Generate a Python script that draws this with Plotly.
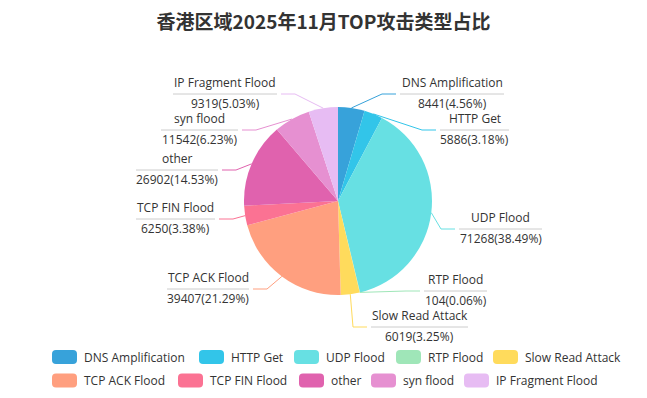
import math
import plotly.graph_objects as go

# ---------------- data ----------------
categories = ["DNS Amplification", "HTTP Get", "UDP Flood", "RTP Flood", "Slow Read Attack",
              "TCP ACK Flood", "TCP FIN Flood", "other", "syn flood", "IP Fragment Flood"]
values = [8441, 5886, 71268, 104, 6019, 39407, 6250, 26902, 11542, 9319]
colors = ["#37a2da", "#32c5e9", "#67e0e3", "#9fe6b8", "#ffdb5c",
          "#ff9f7f", "#fb7293", "#e062ae", "#e690d1", "#e7bcf3"]
title_text = "香港区域2025年11月TOP攻击类型占比"

# ---------------- layout constants ----------------
W, H = 647, 398
OFF = 8  # page body margin compensation
CX, CY, R = 338, 201, 94
# label elbow points (pixels) and label box widths
label_elbows = [(382, 94), (422, 130), (441, 229), (406, 291), (353, 327),
                (267, 289), (233, 219), (236, 170), (256, 130), (295, 94)]
label_widths = [104, 69, 83, 63, 97, 82, 79, 82, 77, 104]
legend_rows = [
    (357, [52, 199, 294, 396, 493]),
    (380.5, [52, 178, 299, 371, 464]),
]
FONT = "Open Sans, Noto Sans CJK SC, sans-serif"
TEXT_COLOR = "#333333"


def px(x):
    return (x - OFF) / W


def py(y):
    return 1 - (y - OFF) / H


fig = go.Figure()
fig.add_trace(go.Pie(
    labels=categories, values=values, sort=False, direction="clockwise", rotation=0,
    marker=dict(colors=colors, line=dict(width=0)),
    textinfo="none", showlegend=False,
    domain=dict(x=[px(CX - R), px(CX + R)], y=[py(CY + R), py(CY - R)]),
    hovertemplate="%{label}<br>%{value} (%{percent})<extra></extra>",
))

shapes = []
annotations = []
total = sum(values)
cum = 0
for i, (name, v, col) in enumerate(zip(categories, values, colors)):
    mid = 2 * math.pi * (cum + v / 2) / total
    cum += v
    sx = CX + R * math.sin(mid)
    sy = CY - R * math.cos(mid)
    ex, ey = label_elbows[i]
    w = label_widths[i]
    right = math.sin(mid) > 0
    sgn = 1 if right else -1
    lx = ex + sgn * 14
    shapes.append(dict(type="path", xref="paper", yref="paper",
                       path=f"M {px(sx)},{py(sy)} L {px(ex)},{py(ey)} L {px(lx)},{py(ey)}",
                       line=dict(color=col, width=1)))
    u0 = ex + sgn * 18
    u1 = u0 + sgn * w
    shapes.append(dict(type="line", xref="paper", yref="paper",
                       x0=px(u0), x1=px(u1), y0=py(ey), y1=py(ey),
                       line=dict(color="#cccccc", width=1)))
    cxl = (u0 + u1) / 2
    annotations.append(dict(x=px(cxl), y=py(ey - 11.5), xref="paper", yref="paper",
                            text=name, showarrow=False, xanchor="center", yanchor="middle",
                            font=dict(family=FONT, size=12, color=TEXT_COLOR)))
    annotations.append(dict(x=px(cxl), y=py(ey + 9.5), xref="paper", yref="paper",
                            text=f"{v}({v / total * 100:.2f}%)", showarrow=False,
                            xanchor="center", yanchor="middle",
                            font=dict(family=FONT, size=12, color=TEXT_COLOR)))


def rounded_rect(x0, y0, x1, y1, r):
    pts = [
        f"M {px(x0 + r)},{py(y0)}",
        f"L {px(x1 - r)},{py(y0)}",
        f"Q {px(x1)},{py(y0)} {px(x1)},{py(y0 + r)}",
        f"L {px(x1)},{py(y1 - r)}",
        f"Q {px(x1)},{py(y1)} {px(x1 - r)},{py(y1)}",
        f"L {px(x0 + r)},{py(y1)}",
        f"Q {px(x0)},{py(y1)} {px(x0)},{py(y1 - r)}",
        f"L {px(x0)},{py(y0 + r)}",
        f"Q {px(x0)},{py(y0)} {px(x0 + r)},{py(y0)}",
        "Z",
    ]
    return " ".join(pts)


idx = 0
for yc, xs in legend_rows:
    for x0 in xs:
        shapes.append(dict(type="path", xref="paper", yref="paper",
                           path=rounded_rect(x0, yc - 7, x0 + 25, yc + 7, 4),
                           fillcolor=colors[idx], line=dict(width=0)))
        annotations.append(dict(x=px(x0 + 30), y=py(yc), xref="paper", yref="paper",
                                text=categories[idx], showarrow=False,
                                xanchor="left", yanchor="middle",
                                font=dict(family=FONT, size=12, color=TEXT_COLOR)))
        idx += 1

fig.update_layout(
    width=W, height=H, autosize=False,
    margin=dict(l=0, r=0, t=0, b=0),
    paper_bgcolor="white", plot_bgcolor="white",
    title=dict(text=title_text, x=px(323.5), xanchor="center", y=py(22), yanchor="middle",
               font=dict(family="Noto Sans CJK SC, sans-serif", size=19, color="#333333",
                         weight="bold")),
    shapes=shapes, annotations=annotations,
    showlegend=False,
)
fig.write_html("out.html")
